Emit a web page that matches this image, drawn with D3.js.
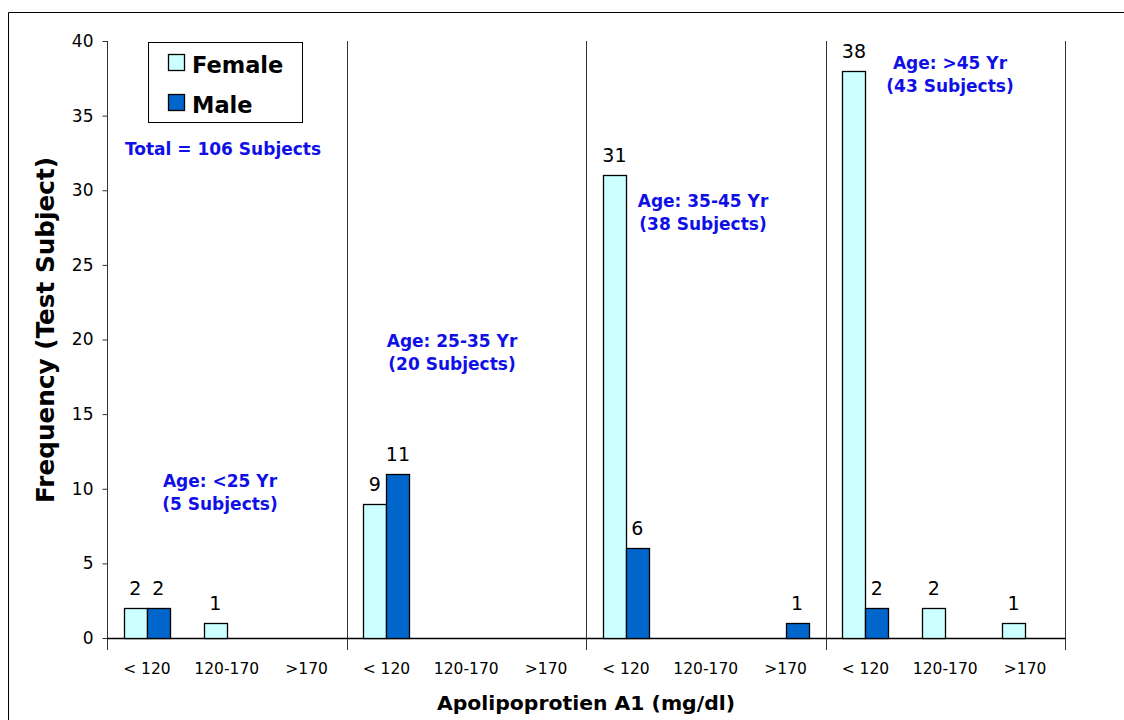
<!DOCTYPE html>
<html>
<head>
<meta charset="utf-8">
<script src="https://cdn.jsdelivr.net/npm/d3@7/dist/d3.min.js"></script>
<style>
  body { margin: 0; background: #fff; }
  text { font-family: "DejaVu Sans", Verdana, sans-serif; }
</style>
</head>
<body>
<div id="chart"></div>
<script>
// categories: 4 age groups x 3 ApoA1 ranges
var ranges = ["< 120", "120-170", ">170"];
var ageGroups = ["<25", "25-35", "35-45", ">45"];
var female = [2, 1, 0, 9, 0, 0, 31, 0, 0, 38, 2, 1];
var male = [2, 0, 0, 11, 0, 0, 6, 0, 1, 2, 0, 0];
var yTicks = [0, 5, 10, 15, 20, 25, 30, 35, 40];
var groupNotes = [
  ["Age: <25 Yr", "(5 Subjects)"],
  ["Age: 25-35 Yr", "(20 Subjects)"],
  ["Age: 35-45 Yr", "(38 Subjects)"],
  ["Age: >45 Yr", "(43 Subjects)"]
];
var noteValues = [10.1, 19.5, 28.9, 38.1]; // y level of first note line
var seriesNames = ["Female", "Male"];
var colors = { Female: "#ccffff", Male: "#0066cc" };

var w = 1124, h = 720;
var plotLeft = 107, plotRight = 1065, plotTop = 41, plotBottom = 638;

var svg = d3.select("#chart").append("svg")
    .attr("width", w)
    .attr("height", h);

// outer frame (only left and top show in the picture)
svg.append("path")
    .attr("d", "M8.5," + h + "V12.5H" + w)
    .attr("fill", "none")
    .attr("stroke", "#000")
    .attr("stroke-width", 1);

var cats = [];
ageGroups.forEach(function (g) {
  ranges.forEach(function (r) { cats.push(g + "|" + r); });
});

var x = d3.scaleBand().domain(cats).range([plotLeft, plotRight]).padding(0);
var y = d3.scaleLinear().domain([0, 40]).range([plotBottom, plotTop]);
var barW = 23;

// group separators
var groupW = x.bandwidth() * 3;
ageGroups.forEach(function (g, i) {
  svg.append("line")
      .attr("x1", Math.round(plotLeft + groupW * (i + 1)) + 0.5)
      .attr("x2", Math.round(plotLeft + groupW * (i + 1)) + 0.5)
      .attr("y1", plotTop)
      .attr("y2", plotBottom + 12)
      .attr("stroke", "#333")
      .attr("stroke-width", 1);
});

// y axis
var yAxis = d3.axisLeft(y).tickValues(yTicks).tickSize(5).tickPadding(9);
var gy = svg.append("g")
    .attr("transform", "translate(" + (plotLeft + 0.5) + ",0)")
    .call(yAxis);
gy.select(".domain").attr("d", "M0," + plotTop + "V" + (plotBottom + 12)).attr("stroke", "#333");
gy.selectAll(".tick line").attr("stroke", "#333");
gy.selectAll("text")
    .style("font-family", "DejaVu Sans, sans-serif")
    .style("font-size", "17px")
    .attr("fill", "#000");

// baseline
svg.append("line")
    .attr("x1", plotLeft).attr("x2", plotRight + 1)
    .attr("y1", plotBottom + 0.5).attr("y2", plotBottom + 0.5)
    .attr("stroke", "#000").attr("stroke-width", 1.5);

// x labels
svg.append("g").selectAll("text")
    .data(cats)
    .enter().append("text")
    .attr("x", function (d) { return x(d) + x.bandwidth() / 2; })
    .attr("y", 674)
    .attr("text-anchor", "middle")
    .style("font-size", "15.5px")
    .text(function (d) { return d.split("|")[1]; });

// bars
var barData = [];
cats.forEach(function (c, i) {
  barData.push({ cat: c, s: "Female", v: female[i], off: -barW });
  barData.push({ cat: c, s: "Male", v: male[i], off: 0 });
});
barData = barData.filter(function (d) { return d.v > 0; });

svg.append("g").selectAll("rect")
    .data(barData)
    .enter().append("rect")
    .attr("x", function (d) { return Math.round(x(d.cat) + x.bandwidth() / 2 + d.off) + 0.5; })
    .attr("y", function (d) { return Math.round(y(d.v)) + 0.5; })
    .attr("width", barW)
    .attr("height", function (d) { return plotBottom - Math.round(y(d.v)); })
    .attr("fill", function (d) { return colors[d.s]; })
    .attr("stroke", "#000")
    .attr("stroke-width", 1.3);

svg.append("g").selectAll("text")
    .data(barData)
    .enter().append("text")
    .attr("x", function (d) { return x(d.cat) + x.bandwidth() / 2 + d.off + barW / 2; })
    .attr("y", function (d) { return y(d.v) - 13; })
    .attr("text-anchor", "middle")
    .style("font-size", "19px")
    .text(function (d) { return d.v; });

// group notes
groupNotes.forEach(function (n, i) {
  var cx = [220, 452, 703, 950][i];
  var t = svg.append("text")
      .attr("x", cx)
      .attr("y", y(noteValues[i]))
      .attr("text-anchor", "middle")
      .attr("fill", "#1010e6")
      .style("font-size", "17px")
      .style("font-weight", "bold");
  t.append("tspan").attr("x", cx).text(n[0]);
  t.append("tspan").attr("x", cx).attr("dy", 23).text(n[1]);
});

svg.append("text")
    .attr("x", 223).attr("y", 155)
    .attr("text-anchor", "middle")
    .attr("fill", "#1010e6")
    .style("font-size", "17px")
    .style("font-weight", "bold")
    .text("Total = 106 Subjects");

// legend
var leg = svg.append("g");
leg.append("rect")
    .attr("x", 148.5).attr("y", 42.5)
    .attr("width", 154).attr("height", 80)
    .attr("fill", "#fff").attr("stroke", "#000");
seriesNames.forEach(function (s, i) {
  leg.append("rect")
      .attr("x", 168.5).attr("y", 54.5 + i * 40)
      .attr("width", 16).attr("height", 16)
      .attr("fill", colors[s]).attr("stroke", "#000").attr("stroke-width", 1.3);
  leg.append("text")
      .attr("x", 192).attr("y", 73 + i * 40)
      .style("font-size", "22.5px")
      .style("font-weight", "bold")
      .text(s);
});

// axis titles
svg.append("text")
    .attr("transform", "translate(54,330) rotate(-90)")
    .attr("text-anchor", "middle")
    .attr("textLength", 346)
    .attr("lengthAdjust", "spacingAndGlyphs")
    .style("font-size", "24px")
    .style("font-weight", "bold")
    .text("Frequency (Test Subject)");

svg.append("text")
    .attr("x", 586).attr("y", 710)
    .attr("text-anchor", "middle")
    .attr("textLength", 298)
    .attr("lengthAdjust", "spacingAndGlyphs")
    .style("font-size", "20px")
    .style("font-weight", "bold")
    .text("Apolipoprotien A1 (mg/dl)");
</script>
</body>
</html>
